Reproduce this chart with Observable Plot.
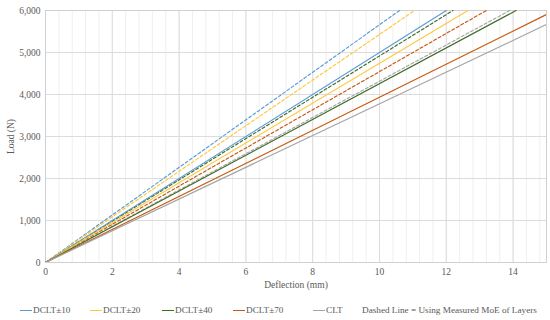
<!DOCTYPE html>
<html>
<head>
<meta charset="utf-8">
<script src="https://cdn.jsdelivr.net/npm/d3@7"></script>
<script src="https://cdn.jsdelivr.net/npm/@observablehq/plot@0.6"></script>
<style>
  html, body { margin: 0; padding: 0; background: #fff; }
  #chart { width: 550px; height: 320px; position: relative; font-family: "Liberation Serif", "Times New Roman", "DejaVu Serif", serif; color: #595959; }
  #chart svg { position: absolute; top: 0; left: 0; }
  #legend { position: absolute; top: 303px; left: 0; width: 550px; height: 14px; font-size: 9.2px; }
  .item { position: absolute; top: 0; white-space: nowrap; line-height: 14px; }
  .sw { display: inline-block; width: 12px; height: 0; border-top: 1.3px solid; vertical-align: middle; margin-right: 1px; }
</style>
</head>
<body>
<div id="chart"></div>
<script>
// Series names and colours
const series = ["DCLT±10", "DCLT±20", "DCLT±40", "DCLT±70", "CLT"];
const colors = ["#5b9bd5", "#ffc83d", "#3f6b2a", "#c55a11", "#a5a5a5"];

// Solid lines: end point of each straight line from the origin (deflection mm, load N)
const solidEndX = [12.0, 12.65, 14.09, 15.0, 15.0];
const solidEndY = [6000, 6000, 6000, 5905, 5667];

// Dashed lines (using measured MoE of layers)
const dashedEndX = [10.6, 11.05, 12.2, 13.2, 13.9];
const dashedEndY = [6000, 6000, 6000, 6000, 6000];

// Axis ticks
const xTicks = [0, 2, 4, 6, 8, 10, 12, 14];
const yTicks = [0, 1000, 2000, 3000, 4000, 5000, 6000];

const legendNote = "Dashed Line = Using Measured MoE of Layers";

function build(endX, endY) {
  const rows = [];
  series.forEach((s, i) => {
    rows.push({series: s, x: 0, y: 0});
    rows.push({series: s, x: endX[i], y: endY[i]});
  });
  return rows;
}
const solid = build(solidEndX, solidEndY);
const dashed = build(dashedEndX, dashedEndY);

const minorX = d3.range(0, 38).map(i => +(i * 0.4).toFixed(2));

const chart = Plot.plot({
  width: 550,
  height: 300,
  marginLeft: 45,
  marginRight: 4,
  marginTop: 10,
  marginBottom: 38,
  x: {domain: [0, 15]},
  y: {domain: [0, 6000]},
  color: {domain: series, range: colors},
  style: {fontFamily: "'Liberation Serif', 'Times New Roman', 'DejaVu Serif', serif", fontSize: "9.5px", color: "#595959", background: "transparent"},
  marks: [
    Plot.gridX(minorX, {stroke: "#efefef", strokeOpacity: 1}),
    Plot.gridX(xTicks, {stroke: "#dcdcdc", strokeOpacity: 1}),
    Plot.gridY(yTicks, {stroke: "#dcdcdc", strokeOpacity: 1}),
    Plot.frame({stroke: "#d0d0d0"}),
    Plot.line(dashed, {x: "x", y: "y", z: "series", stroke: "series", strokeWidth: 1.15, strokeDasharray: "3,2.2", clip: true}),
    Plot.line(solid, {x: "x", y: "y", z: "series", stroke: "series", strokeWidth: 1.15, clip: true}),
    Plot.axisX(xTicks, {tickSize: 0, tickPadding: 6, label: "Deflection (mm)", labelAnchor: "center", labelArrow: "none", labelOffset: 25, fontSize: "9.5px"}),
    Plot.axisY(yTicks, {tickSize: 0, tickPadding: 5, tickFormat: d3.format(","), label: "Load (N)", labelAnchor: "center", labelArrow: "none", labelOffset: 38})
  ]
});
document.getElementById("chart").appendChild(chart);

// Legend
const legend = document.createElement("div");
legend.id = "legend";
const positions = [20, 90, 162, 233, 313];
series.forEach((s, i) => {
  const it = document.createElement("div");
  it.className = "item";
  it.style.left = positions[i] + "px";
  it.innerHTML = `<span class="sw" style="border-color:${colors[i]}"></span>${s}`;
  legend.appendChild(it);
});
const note = document.createElement("div");
note.className = "item";
note.style.left = "362px";
note.textContent = legendNote;
legend.appendChild(note);
document.getElementById("chart").appendChild(legend);
</script>
</body>
</html>
